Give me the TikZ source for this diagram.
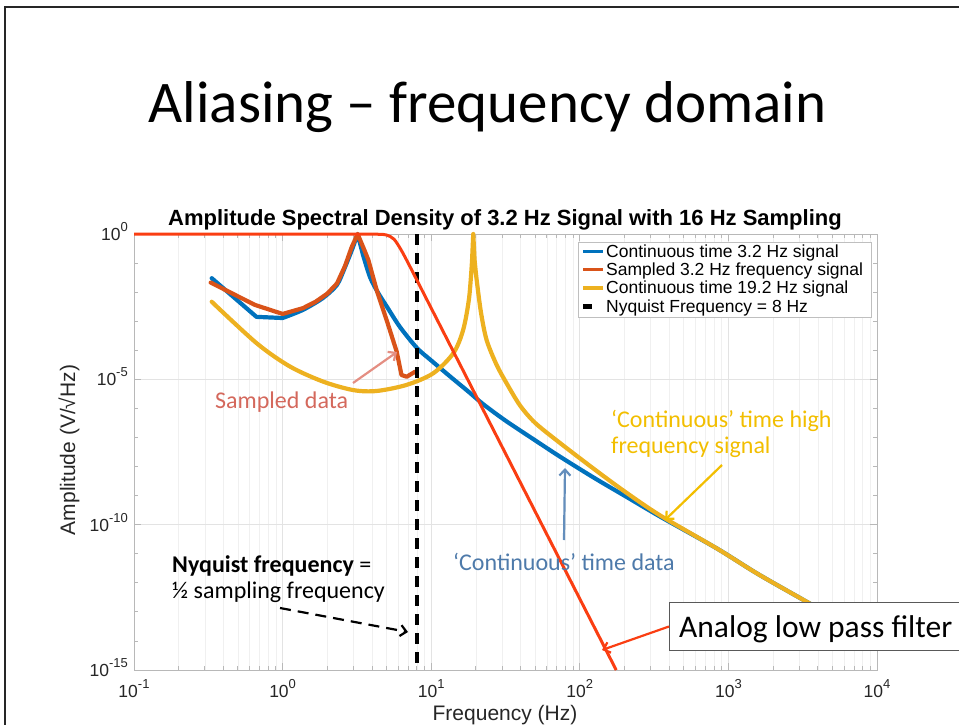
\documentclass[tikz,border=0pt]{standalone}
\usepackage{fontspec}
\setmainfont{Carlito}
\newfontfamily\plotfont{Liberation Sans}
\usetikzlibrary{arrows.meta}
\definecolor{matblue}{HTML}{0072BD}
\definecolor{matorange}{HTML}{D95319}
\definecolor{matyellow}{HTML}{EDB120}
\definecolor{filterred}{RGB}{250,62,18}
\definecolor{sampledtxt}{RGB}{212,104,92}
\definecolor{sampledarr}{RGB}{228,142,130}
\definecolor{conttxt}{RGB}{78,122,170}
\definecolor{contarr}{RGB}{100,142,188}
\definecolor{goldtxt}{RGB}{242,190,0}
\newcommand{\tenpow}[1]{10\raisebox{9pt}{\fontsize{13}{13}\selectfont#1}}
\begin{document}
\begin{tikzpicture}[x=1pt, y=-1pt,
  gridminor/.style={draw=black!6, line width=0.6pt},
  gridmajor/.style={draw=black!11, line width=0.7pt},
  axisline/.style={draw=black!28, line width=0.9pt},
  ticklbl/.style={font=\plotfont\fontsize{17.5}{18}\selectfont, text=black!85, inner sep=0pt},
  axislbl/.style={font=\plotfont\fontsize{21}{22}\selectfont, text=black!85, inner sep=0pt},
  sigline/.style={line width=4.2pt, line join=round, line cap=round},
  annot/.style={font=\fontsize{24}{26}\selectfont, inner sep=0pt, align=left, anchor=base west},
  annarrow/.style={line width=2.2pt, -{Straight Barb[length=6pt, width=11pt]}},
  legendtxt/.style={font=\plotfont\fontsize{17.5}{18}\selectfont, inner sep=0pt, anchor=base west}]
\useasboundingbox (0,0) rectangle (959,725);
% slide frame
\draw[line width=2pt, black!85] (5,740) -- (5,7) -- (980,7);
\node[font=\fontsize{59}{62}\selectfont, anchor=base] (slidetitle) at (487.5,122) {Aliasing – frequency domain};

% axes in log units: x = log10(f), y = log10(A)
\begin{scope}[shift={(282.6,234)}, x=148.6pt, y=29.07pt]
  \foreach \d in {-1,...,3}
    \foreach \m in {2,...,9} {
      \pgfmathsetmacro{\lx}{\d+ln(\m)/ln(10)}
      \draw[gridminor] (\lx,-15) -- (\lx,0);
      \draw[axisline] (\lx,-15) -- ++(0,0.14);
      \draw[axisline] (\lx,0) -- ++(0,-0.14);
    }
  \foreach \d in {0,...,3} \draw[gridmajor] (\d,-15) -- (\d,0);
  \foreach \e in {-5,-10} \draw[gridmajor] (-1,\e) -- (4,\e);
  \foreach \d in {0,...,3} {
    \draw[axisline] (\d,-15) -- ++(0,0.24);
    \draw[axisline] (\d,0) -- ++(0,-0.24);
  }
  \foreach \e in {-14,...,-1} {
    \draw[axisline] (-1,\e) -- ++(0.027,0);
    \draw[axisline] (4,\e) -- ++(-0.027,0);
  }
  \foreach \e in {-5,-10} {
    \draw[axisline] (-1,\e) -- ++(0.047,0);
    \draw[axisline] (4,\e) -- ++(-0.047,0);
  }
  \draw[axisline] (-1,-15) rectangle (4,0);
  % tick labels
  \foreach \d [count=\i] in {-1,0,1,2,3,4}
    \node[ticklbl, anchor=base, yshift=-27pt] (xt\i) at (\d,-15) {\tenpow{\d}};
  \foreach \e [count=\i] in {0,-5,-10,-15}
    \node[ticklbl, anchor=base east, xshift=-6pt, yshift=-6.5pt] (yt\i) at (-1,\e) {\tenpow{\e}};

  % continuous 3.2 Hz
  \draw[sigline, matblue] (-0.477,-1.52) -- (-0.176,-2.85) -- plot[smooth, tension=0.45] coordinates {(0,-2.89) (0.137,-2.61) (0.272,-2.20) (0.366,-1.75) (0.42,-1.14) (0.47,-0.5)} -- (0.505,0)
    -- plot[smooth, tension=0.5] coordinates {(0.54,-0.7) (0.588,-1.48) (0.64,-2.0) (0.703,-2.51) (0.79,-3.2) (0.904,-3.92) (1.0,-4.35) (1.127,-4.9) (1.25,-5.42) (1.349,-5.85) (1.5,-6.42) (1.7,-7.1) (1.867,-7.66) (2.1,-8.4) (2.3,-9.0) (2.54,-9.72) (2.92,-10.81) (3.2,-11.7) (3.53,-12.66) (3.75,-13.3)};
  % sampled 3.2 Hz
  \draw[sigline, matorange] plot coordinates {(-0.484,-1.67) (-0.186,-2.44) (0,-2.75) (0.137,-2.55) (0.222,-2.33) (0.301,-2.05) (0.366,-1.70) (0.42,-1.1) (0.465,-0.45) (0.505,0) (0.55,-0.55) (0.577,-0.89) (0.633,-1.93) (0.70,-2.96) (0.768,-4.05) (0.80,-4.85) (0.835,-4.91) (0.891,-4.74)};
  % continuous 19.2 Hz
  \draw[sigline, matyellow] plot[smooth, tension=0.5] coordinates {(-0.477,-2.33) (-0.174,-3.76) (0.05,-4.56) (0.274,-5.08) (0.476,-5.37) (0.633,-5.40) (0.835,-5.19) (1.014,-4.79) (1.149,-4.1) (1.215,-3.3) (1.255,-2.2) (1.275,-0.9)} -- (1.283,0)
    -- plot[smooth, tension=0.5] coordinates {(1.292,-0.9) (1.306,-1.58) (1.335,-2.7) (1.373,-3.65) (1.44,-4.5) (1.508,-5.14) (1.598,-5.9) (1.7,-6.5) (1.867,-7.19) (2.1,-8.1) (2.3,-8.85) (2.54,-9.68) (2.92,-10.81) (3.2,-11.7) (3.53,-12.66) (3.75,-13.3)};
  % Nyquist
  \draw[line width=4.5pt, dash pattern=on 11pt off 8pt] (0.903,0) -- (0.903,-15);
  % analog filter
  \draw[filterred, line width=3pt, line join=round] (-1,0) -- (0.55,0) -- plot[smooth, tension=0.5] coordinates {(0.55,0) (0.65,-0.01) (0.7,-0.035) (0.75,-0.18) (0.8,-0.57) (0.85,-1.05) (0.9,-1.55) (1.0,-2.55)} -- (2.245,-15);
\end{scope}

\node[font=\plotfont\bfseries\fontsize{22}{23}\selectfont, anchor=base] (plottitle) at (505,225) {Amplitude Spectral Density of 3.2 Hz Signal with 16 Hz Sampling};
\node[axislbl, anchor=base] (xlabel) at (505,720) {Frequency (Hz)};
\node[axislbl, rotate=90, anchor=base] (ylabel) at (75,450) {Amplitude (V/√Hz)};

% legend
\node[draw=black!25, fill=white, line width=0.8pt, anchor=north west, minimum width=293pt, minimum height=75pt] (legend) at (578,242) {};
\foreach \yy/\col/\txt [count=\i] in {257/matblue/Continuous time 3.2 Hz signal, 275/matorange/Sampled 3.2 Hz frequency signal, 293.5/matyellow/Continuous time 19.2 Hz signal} {
  \draw[\col, line width=3.2pt] (583,\yy-5.5) -- (603,\yy-5.5);
  \node[legendtxt] (leg\i) at (606,\yy) {\txt};
}
\draw[line width=4.5pt] (583,306.5) -- (592,306.5);
\node[legendtxt] (leg4) at (606,312) {Nyquist Frequency = 8 Hz};

% annotations
\node[annot, text=sampledtxt] (sampledlbl) at (215,408) {Sampled data};
\coordinate (sampledtip) at (397,352);
\draw[annarrow, sampledarr] (353,383) -- (sampledtip);

\node[annot, text=conttxt] (contlbl) at (453,570) {‘Continuous’ time data};
\coordinate (conttip) at (565,468);
\draw[annarrow, contarr] (564,540) -- (conttip);

\node[annot, text=goldtxt] (goldlbl) at (611,453) {‘Continuous’ time high\\frequency signal};
\coordinate (goldtip) at (665,520);
\draw[annarrow, goldtxt] (722,465) -- (goldtip);

\node[annot] (nyqlbl) at (172,598) {\textbf{Nyquist frequency} =\\½ sampling frequency};
\coordinate (nyqtip) at (408,632);
\draw[annarrow, dash pattern=on 11pt off 7pt] (280,608) -- (nyqtip);

\node[draw=black!65, fill=white, line width=1pt, anchor=north west, minimum width=310pt, minimum height=48pt] (filterbox) at (669,602) {};
\node[anchor=base west, inner sep=0pt, font=\fontsize{31.5}{33}\selectfont] (filterlbl) at (679,637) {Analog low pass filter};
\coordinate (filtertip) at (602,650);
\draw[annarrow, filterred] (filterbox.west) -- (filtertip);
\end{tikzpicture}
\end{document}
